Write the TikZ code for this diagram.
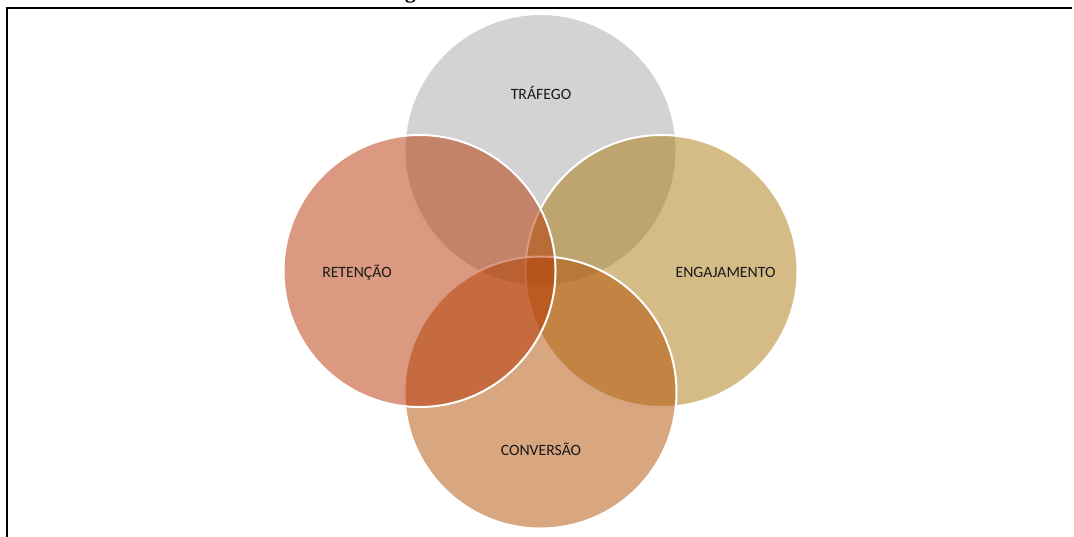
\documentclass[tikz,border=0pt]{standalone}
\usepackage{fontspec}
\newfontfamily\vennfont{Carlito}
\newfontfamily\capfont{Liberation Serif}
\definecolor{venngray}{RGB}{167,167,167}
\definecolor{venngold}{RGB}{171,121,15}
\definecolor{vennochre}{RGB}{177,77,0}
\definecolor{vennrust}{RGB}{181,51,1}
\usetikzlibrary{positioning}

\begin{document}
\begin{tikzpicture}[x=0.75pt,y=-0.75pt,
    venn/.style={draw=white,line width=1.5pt,fill opacity=0.5},
    vennlabel/.style={font=\vennfont\fontsize{11.8}{14}\selectfont,
                      text=black!90,inner sep=0pt,anchor=base}]
  \useasboundingbox (0,0) rectangle (1074,536);

  %% caption line above the frame (cut off at the top)
  \node[font=\capfont\bfseries\fontsize{16}{18}\selectfont,anchor=base,inner sep=0pt]
        (caption) at (410.5,-2) {g};
  %% frame
  \draw[line width=1.5pt] (6.5,540) -- (6.5,7.5) -- (1072,7.5);

  %% circle centres
  \coordinate (ctop)    at (540.5,150);
  \coordinate (cright)  at (661.5,271);
  \coordinate (cbottom) at (540.5,392.5);
  \coordinate (cleft)   at (419.5,271);

  %% circles, drawn clockwise from the top
  \path[venn,fill=venngray]  (ctop)    circle[radius=102pt];
  \path[venn,fill=venngold]  (cright)  circle[radius=102pt];
  \path[venn,fill=vennochre] (cbottom) circle[radius=102pt];
  \path[venn,fill=vennrust]  (cleft)   circle[radius=102pt];

  %% labels
  \node[vennlabel] (trafego)     at (541,99)  {TRÁFEGO};
  \node[vennlabel] (engajamento) at (725.5,277) {ENGAJAMENTO};
  \node[vennlabel] (conversao)   at (541,455) {CONVERSÃO};
  \node[vennlabel] (retencao)    at (357,277) {RETENÇÃO};
\end{tikzpicture}
\end{document}
